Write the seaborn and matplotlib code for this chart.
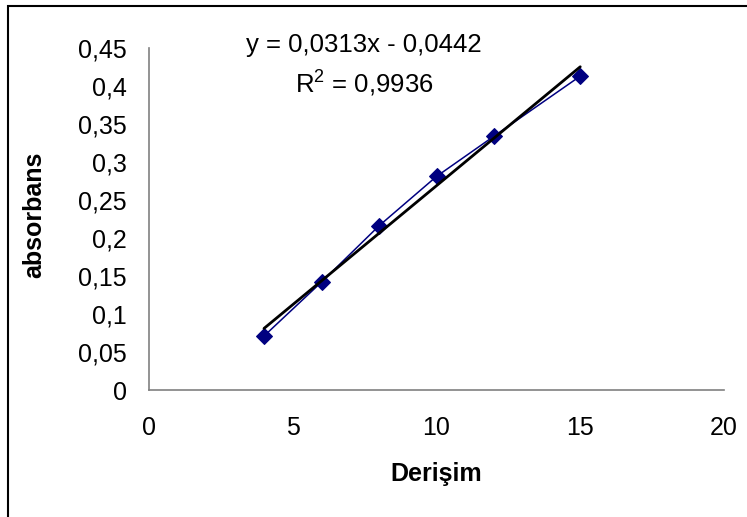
import matplotlib
matplotlib.use("Agg")
import matplotlib.pyplot as plt
import seaborn as sns
import pandas as pd
from matplotlib.patches import Rectangle

# Data
derisim = [4, 6, 8, 10, 12, 15]
absorbans = [0.071, 0.142, 0.216, 0.281, 0.334, 0.413]
slope = 0.0313
intercept = -0.0442
x_ticks = [0, 5, 10, 15, 20]
x_tick_labels = ["0", "5", "10", "15", "20"]
y_ticks = [0, 0.05, 0.1, 0.15, 0.2, 0.25, 0.3, 0.35, 0.4, 0.45]
y_tick_labels = ["0", "0,05", "0,1", "0,15", "0,2", "0,25", "0,3", "0,35", "0,4", "0,45"]
eq_text = "y = 0,0313x - 0,0442"
r2_text = "R$^2$ = 0,9936"

sns.set_style("white")
plt.rcParams["font.family"] = ["Liberation Sans", "DejaVu Sans"]
plt.rcParams["mathtext.fontset"] = "custom"
plt.rcParams["mathtext.rm"] = "Liberation Sans"
plt.rcParams["text.color"] = "black"
plt.rcParams["axes.labelcolor"] = "black"
plt.rcParams["xtick.labelcolor"] = "black"
plt.rcParams["ytick.labelcolor"] = "black"

df = pd.DataFrame({"Derişim": derisim, "absorbans": absorbans})
trend_x = [min(derisim), max(derisim)]
trend = pd.DataFrame({"x": trend_x, "y": [slope * v + intercept for v in trend_x]})

fig = plt.figure(figsize=(7.47, 5.17), dpi=100)
ax = fig.add_axes([149 / 747, 1 - 390 / 517, (724 - 149) / 747, (390 - 48) / 517])

sns.lineplot(data=df, x="Derişim", y="absorbans", ax=ax, color="#000080",
             linewidth=1.1, marker="D", markersize=8.5, markeredgecolor="#000080",
             zorder=3)
sns.lineplot(data=trend, x="x", y="y", ax=ax, color="black", linewidth=2.0, zorder=4)

ax.set_xlim(0, 20)
ax.set_ylim(0, 0.45)
ax.set_xticks(x_ticks)
ax.set_xticklabels(x_tick_labels)
ax.set_yticks(y_ticks)
ax.set_yticklabels(y_tick_labels)
ax.tick_params(axis="both", direction="out", length=5, width=1, color="#808080",
               labelsize=18, labelcolor="black")
ax.tick_params(axis="y", pad=11)
ax.tick_params(axis="x", pad=14)
for side in ["top", "right"]:
    ax.spines[side].set_visible(False)
for side in ["left", "bottom"]:
    ax.spines[side].set_color("#808080")
    ax.spines[side].set_linewidth(1.2)

ax.set_xlabel("Derişim", fontsize=18, fontweight="bold", va="center", color="black")
ax.set_ylabel("absorbans", fontsize=18, fontweight="bold", va="center", color="black")
ax.xaxis.set_label_coords((436 - 149) / 575, -(474 - 390) / 342)
ax.yaxis.set_label_coords((34 - 149) / 575, (390 - 215) / 342)

fig.text(364 / 747, 1 - 45 / 517, eq_text, ha="center", va="center", fontsize=18.5,
         color="black")
fig.text(364 / 747, 1 - 83 / 517, r2_text, ha="center", va="center", fontsize=18.5,
         color="black")

fig.patches.append(Rectangle((8 / 747, -0.1), 1.2, 1 - 6 / 517 + 0.1,
                             transform=fig.transFigure, fill=False,
                             edgecolor="black", linewidth=1.5))

fig.savefig("out.png", dpi=100)
